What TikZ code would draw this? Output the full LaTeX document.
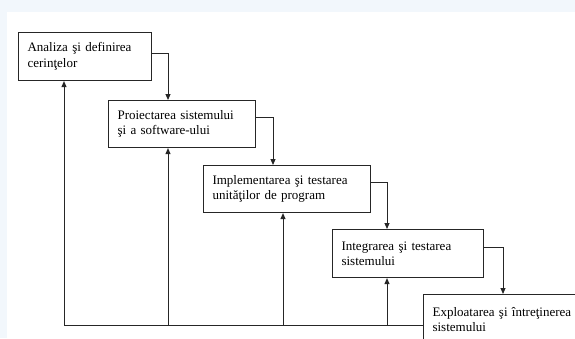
\documentclass[tikz,border=0pt]{standalone}
\usepackage{fontspec}
\setmainfont{Liberation Serif}
\usetikzlibrary{arrows.meta,calc}
\definecolor{bgblue}{HTML}{F2F7FC}
\definecolor{linegray}{HTML}{262626}
\begin{document}
\begin{tikzpicture}[x=1pt,y=-1pt,
  stage/.style={draw=linegray,line width=1.1pt,anchor=north west,align=left,
    inner xsep=9pt,inner ysep=0pt,font=\fontsize{13}{15.5}\selectfont},
  flow/.style={draw=linegray,line width=1pt,-{Triangle[width=5pt,length=6pt]}}]
\useasboundingbox (0,0) rectangle (575,338);
\fill[bgblue] (0,0) rectangle (575,338);
\fill[white] (7,12) rectangle (575,338);
\node[stage,text width=115pt,minimum height=48pt] (b1) at (18,32) {Analiza şi definirea\\cerinţelor};
\node[stage,text width=129pt,minimum height=47pt] (b2) at (108,100) {Proiectarea sistemului\\şi a software-ului};
\node[stage,text width=149pt,minimum height=47pt] (b3) at (203,165) {Implementarea şi testarea\\unităţilor de program};
\node[stage,text width=133pt,minimum height=48pt] (b4) at (332,229) {Integrarea şi testarea\\sistemului};
\node[stage,text width=160pt,minimum height=50pt] (b5) at (423,294) {Exploatarea şi întreţinerea\\sistemului};
% forward flow
\draw[flow] ($(b1.north east)+(0,21)$) -| ($(b2.north west)+(60,0)$);
\draw[flow] ($(b2.north east)+(0,17)$) -| ($(b3.north west)+(70,0)$);
\draw[flow] ($(b3.north east)+(0,17)$) -| ($(b4.north west)+(55,0)$);
\draw[flow] ($(b4.north east)+(0,18)$) -| ($(b5.north west)+(80,0)$);
% feedback
\coordinate (floor) at (0,325);
\coordinate (r1) at ($(b1.south west)+(46,0)$);
\coordinate (r2) at ($(b2.south west)+(60,0)$);
\coordinate (r3) at ($(b3.south west)+(80,0)$);
\coordinate (r4) at ($(b4.south west)+(55,0)$);
\draw[flow] (b5.west|-floor) -- (r1|-floor) -- (r1);
\draw[flow] (r2|-floor) -- (r2);
\draw[flow] (r3|-floor) -- (r3);
\draw[flow] (r4|-floor) -- (r4);
\end{tikzpicture}
\end{document}
